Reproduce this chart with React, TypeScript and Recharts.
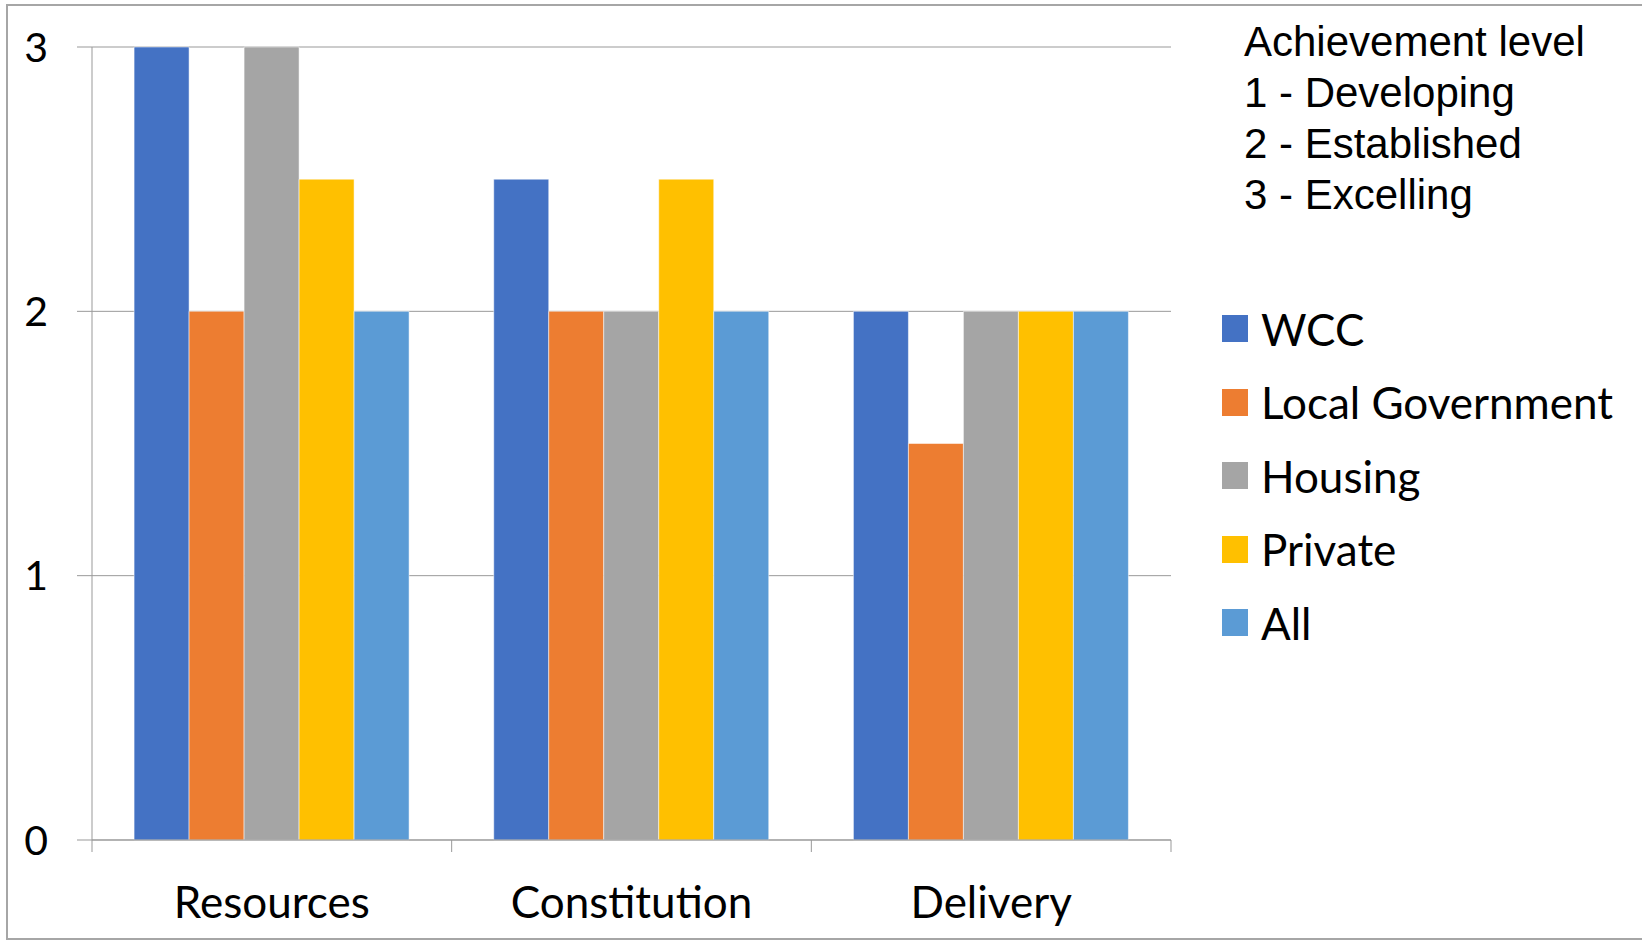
import { Bar, BarChart, CartesianGrid, Legend, XAxis, YAxis } from 'recharts'

const CATEGORIES = ['Resources', 'Constitution', 'Delivery']
const WCC = [3, 2.5, 2]
const LOCAL_GOVERNMENT = [2, 2, 1.5]
const HOUSING = [3, 2, 2]
const PRIVATE = [2.5, 2.5, 2]
const ALL = [2, 2, 2]
const Y_TICKS = [0, 1, 2, 3]
const LEVELS = ['Achievement level', '1 - Developing', '2 - Established', '3 - Excelling']

const SERIES = [
  { key: 'wcc', name: 'WCC', values: WCC, color: '#4472C4' },
  { key: 'local', name: 'Local Government', values: LOCAL_GOVERNMENT, color: '#ED7D31' },
  { key: 'housing', name: 'Housing', values: HOUSING, color: '#A5A5A5' },
  { key: 'private', name: 'Private', values: PRIVATE, color: '#FFC000' },
  { key: 'all', name: 'All', values: ALL, color: '#5B9BD5' },
]

const data = CATEGORIES.map((category, i) => {
  const row: Record<string, string | number> = { category }
  SERIES.forEach((s) => {
    row[s.key] = s.values[i]
  })
  return row
})

const LINE_COLOR = '#999999'
const DIGIT_FONT = { fill: '#000', fontSize: 41, fontFamily: 'Lato' }
const LABEL_MARGIN = 47
const EDGE_TICK = 12

// category label plus tick marks on the band edges (Excel style)
function CategoryTick({ x, y, payload, index, visibleTicksCount }: any) {
  const half = payload?.offset ?? 0
  const axisY = y - LABEL_MARGIN
  const isLast = index === visibleTicksCount - 1
  return (
    <g>
      <line
        x1={x - half}
        x2={x - half}
        y1={axisY}
        y2={axisY + EDGE_TICK}
        stroke={LINE_COLOR}
      />
      {isLast && (
        <line
          x1={x + half}
          x2={x + half}
          y1={axisY}
          y2={axisY + EDGE_TICK}
          stroke={LINE_COLOR}
        />
      )}
      <text
        x={x}
        y={y}
        dy="0.71em"
        textAnchor="middle"
        fill="#000"
        fontSize={44}
        fontFamily="Lato"
      >
        {payload.value}
      </text>
    </g>
  )
}

// keep the legend in series order, not sorted by name
function renderLegend({ payload }: any) {
  const items = [...(payload ?? [])].sort(
    (a: any, b: any) =>
      SERIES.findIndex((s) => s.name === a.value) - SERIES.findIndex((s) => s.name === b.value),
  )
  return (
    <div>
      {items.map((entry: any) => (
        <div key={entry.value} style={{ display: 'flex', alignItems: 'center', height: 73.5 }}>
          <span
            style={{
              display: 'inline-block',
              width: 26,
              height: 27,
              background: entry.color,
              marginRight: 13,
            }}
          />
          <span style={{ fontFamily: 'Lato', fontSize: 44, color: '#000', whiteSpace: 'nowrap' }}>
            {entry.value}
          </span>
        </div>
      ))}
    </div>
  )
}

export default function App() {
  return (
    <div
      style={{
        position: 'absolute',
        left: 0,
        top: 0,
        width: 1642,
        height: 941,
        overflow: 'hidden',
        background: '#fff',
      }}
    >
      <div
        style={{
          position: 'absolute',
          left: 6,
          top: 4,
          width: 1700,
          height: 936,
          boxSizing: 'border-box',
          border: '2px solid #a6a6a6',
        }}
      />
      <div
        style={{
          position: 'absolute',
          left: 1244,
          top: 16,
          fontFamily: '"Liberation Sans", Arial, sans-serif',
          fontSize: 42,
          lineHeight: '51px',
          color: '#000',
          whiteSpace: 'nowrap',
        }}
      >
        {LEVELS.map((line) => (
          <div key={line}>{line}</div>
        ))}
      </div>
      <div style={{ position: 'absolute', left: 0, top: 0 }}>
        <BarChart
          width={1642}
          height={941}
          data={data}
          margin={{ top: 47, right: 471, bottom: 100, left: 0 }}
          barCategoryGap="11.7%"
          barGap={0}
        >
          <CartesianGrid vertical={false} stroke={LINE_COLOR} />
          <XAxis
            dataKey="category"
            tick={<CategoryTick />}
            interval={0}
            tickLine={false}
            tickSize={0}
            tickMargin={LABEL_MARGIN}
            axisLine={{ stroke: LINE_COLOR }}
            height={1}
          />
          <YAxis
            domain={[0, 3]}
            ticks={Y_TICKS}
            width={92}
            tick={DIGIT_FONT}
            tickSize={15}
            tickMargin={29}
            tickLine={{ stroke: LINE_COLOR }}
            axisLine={{ stroke: LINE_COLOR }}
          />
          <Legend
            layout="vertical"
            align="center"
            verticalAlign="middle"
            wrapperStyle={{ left: 1222, top: 292, width: 420 }}
            content={renderLegend}
          />
          {SERIES.map((s) => (
            <Bar
              key={s.key}
              dataKey={s.key}
              name={s.name}
              fill={s.color}
              stroke="#ffffff"
              strokeOpacity={0.5}
              strokeWidth={1}
              isAnimationActive={false}
            />
          ))}
        </BarChart>
      </div>
    </div>
  )
}
